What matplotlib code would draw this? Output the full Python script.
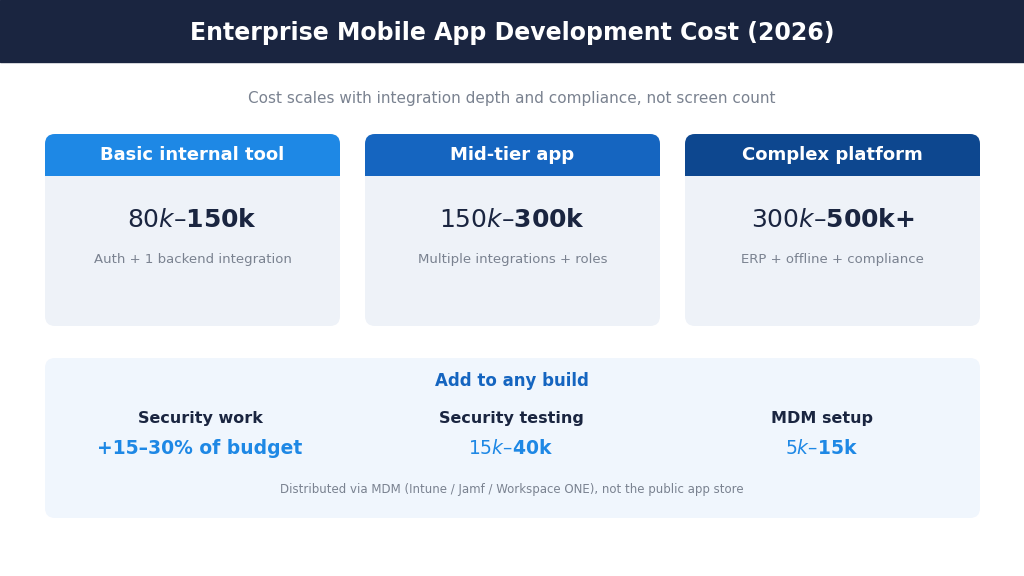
import matplotlib
matplotlib.use("Agg")
import matplotlib.pyplot as plt
from matplotlib.patches import FancyBboxPatch, Rectangle

title = "Enterprise Mobile App Development Cost (2026)"
subtitle = "Cost scales with integration depth and compliance, not screen count"
tiers = ["Basic internal tool", "Mid-tier app", "Complex platform"]
prices = ["$80k – $150k", "$150k – $300k", "$300k – $500k+"]
descs = ["Auth + 1 backend integration", "Multiple integrations + roles", "ERP + offline + compliance"]
addon_title = "Add to any build"
addon_labels = ["Security work", "Security testing", "MDM setup"]
addon_values = ["+15–30% of budget", "$15k – $40k", "$5k – $15k"]
footer = "Distributed via MDM (Intune / Jamf / Workspace ONE), not the public app store"

header_colors = ["#1e88e5", "#1565c0", "#0d478f"]
navy = "#1a2540"

fig = plt.figure(figsize=(10.24, 5.76), dpi=100)
ax = fig.add_axes([0, 0, 1, 1])
ax.set_xlim(0, 1024); ax.set_ylim(576, 0); ax.axis("off")

ax.add_patch(Rectangle((0, 0), 1024, 62, color=navy, zorder=1))
ax.text(512, 33, title, color="white", fontsize=17, fontweight="bold", ha="center", va="center")
ax.text(512, 99, subtitle, color="#7a8290", fontsize=11, ha="center", va="center")

r = 10
for i, (t, p, d) in enumerate(zip(tiers, prices, descs)):
    x0 = 45 + i * 320; w = 295
    ax.add_patch(FancyBboxPatch((x0 + r, 134 + r), w - 2 * r, 192 - 2 * r,
                                boxstyle=f"round,pad={r}", fc="#eef2f8", ec="none", zorder=2))
    ax.add_patch(FancyBboxPatch((x0 + r, 134 + r), w - 2 * r, 42 - r,
                                boxstyle=f"round,pad={r}", fc=header_colors[i], ec="none", zorder=3))
    ax.add_patch(Rectangle((x0, 176), w, r + 1, fc="#eef2f8", ec="none", zorder=4))
    cx = x0 + w / 2
    ax.text(cx, 155, t, color="white", fontsize=13, fontweight="bold", ha="center", va="center", zorder=5)
    ax.text(cx, 220, p, color=navy, fontsize=18, fontweight="bold", ha="center", va="center", zorder=5)
    ax.text(cx, 260, d, color="#7a8290", fontsize=9.5, ha="center", va="center", zorder=5)

ax.add_patch(FancyBboxPatch((45 + r, 358 + r), 935 - 2 * r, 160 - 2 * r,
                            boxstyle=f"round,pad={r}", fc="#f0f6fd", ec="none", zorder=2))
ax.text(512, 381, addon_title, color="#1565c0", fontsize=12, fontweight="bold", ha="center", va="center", zorder=5)
for i, (l, v) in enumerate(zip(addon_labels, addon_values)):
    cx = 200 + i * 311
    ax.text(cx, 418, l, color=navy, fontsize=11.5, fontweight="bold", ha="center", va="center", zorder=5)
    ax.text(cx, 448, v, color="#1e88e5", fontsize=13.5, fontweight="bold", ha="center", va="center", zorder=5)
ax.text(512, 490, footer, color="#7a8290", fontsize=8.5, ha="center", va="center", zorder=5)

fig.savefig("out.png", dpi=100, facecolor="white")
